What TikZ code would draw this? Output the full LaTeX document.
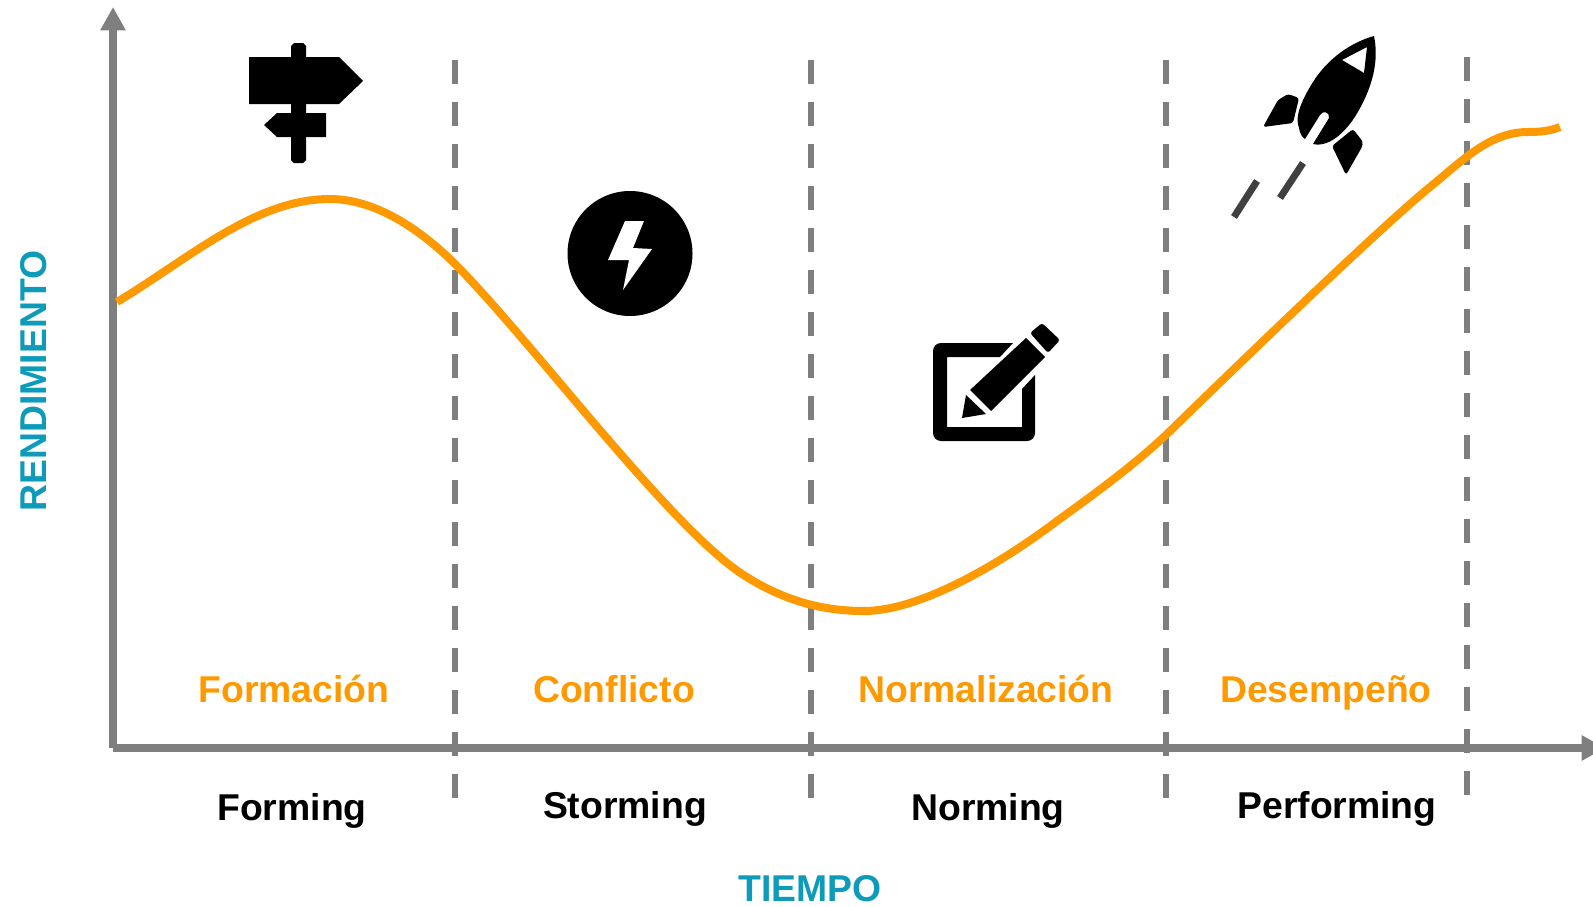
\documentclass[tikz,border=0pt]{standalone}
\usepackage{fontspec}
\setmainfont{Liberation Sans}
\usetikzlibrary{arrows.meta}
\definecolor{axisgray}{RGB}{127,127,127}
\definecolor{curveorange}{RGB}{255,153,0}
\definecolor{titleblue}{RGB}{14,155,186}
\definecolor{flamegray}{RGB}{64,64,64}
\tikzset{
  labeltext/.style={inner sep=0pt,anchor=base,font=\fontsize{28}{32}\selectfont\bfseries},
  phasetext/.style={labeltext,text=curveorange},
  stagetext/.style={labeltext,text=black},
  axistext/.style={labeltext,text=titleblue},
  axisline/.style={draw=axisgray,line width=5.8pt,-{Triangle[length=17.5pt,width=18pt]}},
  stageline/.style={draw=axisgray,line width=4.5pt,dash pattern=on 18pt off 13.5pt},
  flameline/.style={draw=flamegray,line width=5.2pt},
}
\begin{document}
\begin{tikzpicture}[x=0.75pt,y=0.75pt,yscale=-1,xscale=1]
\useasboundingbox (0,0) rectangle (1593,907);

% Stage separators
\foreach \sepx/\septop/\sepend in {455/60/798,811/60/798,1166/60/798,1467/57/795}
  \draw [stageline] (\sepx,\septop) -- (\sepx,\sepend);

% Axes
\coordinate (origin) at (113,748);
\coordinate (ytop) at (113,7);
\coordinate (xend) at (1605,748);
\draw [axisline] (origin) -- (ytop);
\draw [axisline] (origin) -- (xend);

% Performance curve
\draw [curveorange,line width=6pt] (117,302) .. controls (190,258) and (255,199) .. (330,199)
  .. controls (375,199) and (420,229) .. (455,264)
  .. controls (530,339) and (667,524) .. (742,574)
  .. controls (785,602) and (825,611) .. (864,611)
  .. controls (920,611) and (1000,564) .. (1057,521)
  .. controls (1100,490) and (1135,464) .. (1166,435)
  .. controls (1250,353) and (1380,228) .. (1430,187)
  .. controls (1463,160) and (1490,132) .. (1528,132)
  .. controls (1540,132) and (1550,131) .. (1560,127);

% Signpost
\fill (291,46) -- (294,43) -- (303,43) -- (306,46) -- (306,160) -- (303,163) -- (294,163) -- (291,160) -- cycle;
\fill (249,57) -- (339,57) -- (363,81) -- (339,104) -- (249,104) -- cycle;
\fill (277,113) -- (326,113) -- (326,137) -- (277,137) -- (264,125) -- cycle;

% Bolt
\fill (630,253.5) circle (62.5);
\fill [white] (625,221) -- (644,221) -- (633,248) -- (652,249) -- (623,290) -- (629,260) -- (608,260) -- cycle;

% Note and pencil
\fill [rounded corners=6] (1013,343) [sharp corners] -- (1000,357) -- (947,357) -- (947,427) -- (1022,427) -- (1022,389) -- (1035,375) [rounded corners=6] -- (1035,441) -- (933,441) -- (933,343) [sharp corners] -- cycle;
\fill (970,390) -- (1026,338) -- (1045,357) -- (991,411) -- cycle;
\fill [rounded corners=2] (1030,333) -- (1042,323) -- (1060,340) -- (1048,353) -- cycle;
\fill (966,395) -- (986,414) -- (962,418) -- cycle;

% Rocket
\fill [even odd rule] (1374,36) .. controls (1352,42) and (1328,58) .. (1313,82)
  .. controls (1303,98) and (1294,116) .. (1299,128) .. controls (1300,134) and (1302,137) .. (1305,139)
  -- (1320,115) .. controls (1323,110) and (1330,112) .. (1329,118) -- (1313,144)
  .. controls (1330,148) and (1348,130) .. (1359,110)
  .. controls (1373,85) and (1379,60) .. (1374,36) -- cycle
  (1342,60) -- (1367,47) -- (1364,73) -- cycle;
\fill [rounded corners=2] (1263,127) -- (1278,100) -- (1288,94) -- (1299,98) -- (1293,123) -- cycle;
\fill [rounded corners=2] (1332,146) -- (1353,129) -- (1363,142) -- (1362,147) -- (1346,175) -- cycle;
\draw [flameline] (1257,181) -- (1234,217);
\draw [flameline] (1303,163) -- (1280,198);

% Phase labels
\node [phasetext] (formacion) at (294,702) {Formación};
\node [phasetext] (conflicto) at (614,702) {Conflicto};
\node [phasetext] (normalizacion) at (986,702) {Normalización};
\node [phasetext] (desempeno) at (1326,702) {Desempeño};

% Stage labels
\node [stagetext] (forming) at (292,820) {Forming};
\node [stagetext] (storming) at (625,818) {Storming};
\node [stagetext] (norming) at (988,820) {Norming};
\node [stagetext] (performing) at (1337,818) {Performing};

% Axis titles
\node [axistext] (tiempo) at (810,901) {TIEMPO};
\node [axistext,rotate=90] (rendimiento) at (46,381) {RENDIMIENTO};
\end{tikzpicture}
\end{document}
